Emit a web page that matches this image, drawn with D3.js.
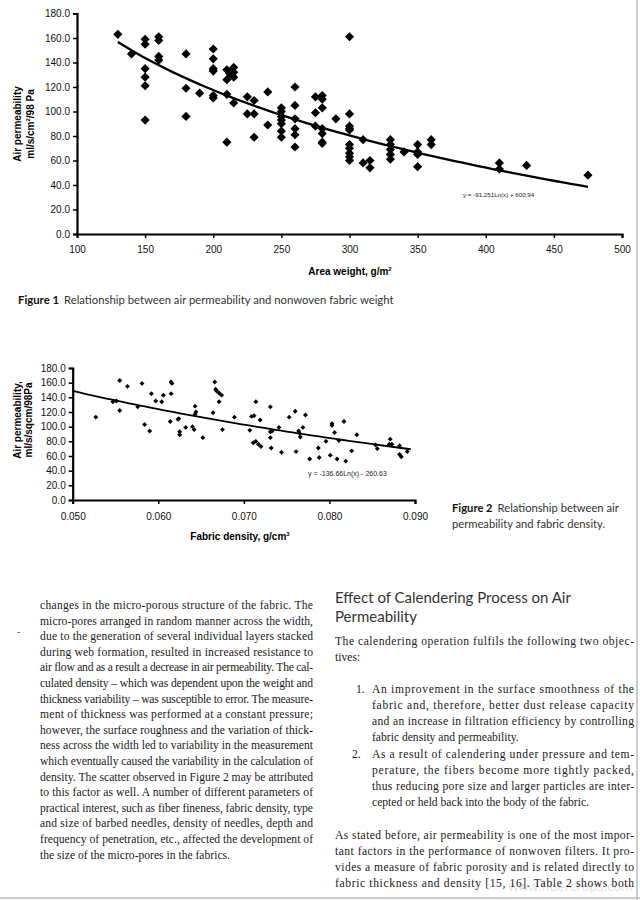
<!DOCTYPE html>
<html><head><meta charset="utf-8">
<script src="https://cdn.jsdelivr.net/npm/d3@7"></script>
<style>
html,body{margin:0;padding:0;background:#fff;}
svg{display:block;}
</style></head>
<body>
<svg id="c" width="640" height="900"></svg>
<script>
// ---------- DATA ----------
// Figure 1: area weight (g/m2) vs air permeability
const fig1X = [130,140,150,150,150,150,150,150,160,160,160,160,180,180,180,190,200,200,200,200,200,200,
  210,210,210,210,212,215,215,215,215,225,225,230,230,230,240,240,
  250,250,250,250,250,250,250,260,260,260,260,260,260,275,275,275,280,280,280,280,280,280,280,290,
  300,300,300,300,300,300,300,300,300,300,310,310,315,315,330,330,330,330,330,340,350,350,350,350,360,360,410,410,430,475];
const fig1Y = [163,147,159,155,135,128,121,93,161,158,145,142,147,119,96,115,151,143,135,133,113,111,
  134,126,114,75,131,136,132,128,107,112,98,109,98,79,116,89,
  103,100,96,93,90,84,79,120,105,94,86,81,71,112,99,88,113,110,103,86,82,75,74,94,
  161,98,88,86,85,73,70,66,63,60,77,58,60,54,77,73,69,65,61,67,73,67,65,55,77,73,58,53,56,48];
const fig1Fit = [-91.251, 600.94];          // y = a*ln(x) + b
const fig1FitRange = [130, 475];
const fig1XTicks = [100,150,200,250,300,350,400,450,500];
const fig1YTicks = [0,20,40,60,80,100,120,140,160,180];

// Figure 2: fabric density (g/cm3) vs air permeability
const fig2X = [0.0527,0.0555,0.0547,0.0551,0.0555,0.0564,0.0576,0.0581,0.0584,0.0590,0.0592,0.0597,0.0604,0.0606,
  0.0615,0.0616,0.0615,0.0614,0.0623,0.0624,0.0625,0.0625,0.0632,0.0640,0.0642,0.0643,0.0643,0.0644,0.0652,
  0.0664,0.0666,0.0667,0.0668,0.0671,0.0674,0.0671,0.0675,0.0689,
  0.0714,0.0707,0.0709,0.0712,0.0719,0.0711,0.0714,0.0717,0.0720,0.0731,0.0731,0.0731,0.0732,0.0733,0.0741,0.0744,
  0.0753,0.0760,0.0761,0.0764,0.0765,0.0766,0.0769,0.0772,0.0777,0.0787,0.0788,0.0796,0.0801,0.0803,0.0803,0.0806,
  0.0809,0.0811,0.0817,0.0819,0.0826,0.0832,0.0854,0.0856,0.0871,0.0870,0.0873,0.0882,0.0882,0.0884,0.0891];
const fig2Y = [113,163,134,135,122,155,127,159,103,94,145,135,134,143,
  161,159,145,107,110,111,93,89,99,100,96,117,128,120,85,
  119,161,151,149,146,143,134,96,113,
  134,95,114,115,109,78,80,76,73,127,93,85,71,94,99,65,
  113,121,66,94,91,86,99,116,56,71,58,80,61,102,104,92,
  56,81,107,53,67,89,75,70,83,76,76,74,62,59,66];
const fig2Fit = [-136.66, -260.63];
const fig2FitRange = [0.05, 0.0895];
const fig2XTicks = [0.05,0.06,0.07,0.08,0.09];
const fig2YTicks = [0,20,40,60,80,100,120,140,160,180];

// Text content
const leftLines = [
 "changes in the micro-porous structure of the fabric. The",
 "micro-pores arranged in random manner across the width,",
 "due to the generation of several individual layers stacked",
 "during web formation, resulted in increased resistance to",
 "air flow and as a result a decrease in air permeability. The cal-",
 "culated density – which was dependent upon the weight and",
 "thickness variability – was susceptible to error. The measure-",
 "ment of thickness was performed at a constant pressure;",
 "however, the surface roughness and the variation of thick-",
 "ness across the width led to variability in the measurement",
 "which eventually caused the variability in the calculation of",
 "density. The scatter observed in Figure 2 may be attributed",
 "to this factor as well. A number of different parameters of",
 "practical interest, such as fiber fineness, fabric density, type",
 "and size of barbed needles, density of needles, depth and",
 "frequency of penetration, etc., affected the development of",
 "the size of the micro-pores in the fabrics."
];
const headingLines = ["Effect of Calendering Process on Air","Permeability"];
const introLines = ["The calendering operation fulfils the following two objec-","tives:"];
const item1Lines = [
 "An improvement in the surface smoothness of the",
 "fabric and, therefore, better dust release capacity",
 "and an increase in filtration efficiency by controlling",
 "fabric density and permeability."];
const item2Lines = [
 "As a result of calendering under pressure and tem-",
 "perature, the fibers become more tightly packed,",
 "thus reducing pore size and larger particles are inter-",
 "cepted or held back into the body of the fabric."];
const paraLines = [
 "As stated before, air permeability is one of the most impor-",
 "tant factors in the performance of nonwoven filters. It pro-",
 "vides a measure of fabric porosity and is related directly to",
 "fabric thickness and density [15, 16]. Table 2 shows both"];

// ---------- DRAW ----------
const svg = d3.select("#c");
const CF = "'Liberation Sans', Arial, sans-serif";
const HF = "Lato, 'Open Sans', sans-serif";

function scatterChart(o){
  const g = svg.append("g");
  const x = d3.scaleLinear().domain(o.xDom).range(o.xRange);
  const y = d3.scaleLinear().domain(o.yDom).range(o.yRange);
  const yAx = g.append("g").attr("transform",`translate(${o.xRange[0]},0)`)
    .call(d3.axisLeft(y).tickValues(o.yTicks).tickFormat(d3.format(".1f")).tickSize(4).tickPadding(3));
  const xAx = g.append("g").attr("transform",`translate(0,${o.yRange[0]})`)
    .call(d3.axisBottom(x).tickValues(o.xTicks).tickFormat(o.xFmt).tickSize(4).tickPadding(o.xPad));
  [yAx,xAx].forEach(a=>{
    a.select(".domain").attr("stroke","#000").attr("stroke-width",2.2);
    a.selectAll(".tick line").attr("stroke","#000").attr("stroke-width",1.5);
    a.selectAll("text").attr("font-family",CF).attr("font-size",o.tickFs).attr("fill","#111");
  });
  // trend line drawn from the equation printed on the chart
  const xs = d3.range(0,61).map(i=>o.fitRange[0]+(o.fitRange[1]-o.fitRange[0])*i/60);
  g.append("path")
    .attr("d", d3.line().x(d=>x(d)).y(d=>y(o.fit[0]*Math.log(d)+o.fit[1]))(xs))
    .attr("fill","none").attr("stroke","#000").attr("stroke-width",o.lineW);
  // points
  const sym = d3.symbol(d3.symbolSquare, o.symSize);
  g.selectAll("path.pt").data(o.xs).join("path").attr("class","pt")
    .attr("d", sym())
    .attr("transform",(d,i)=>`translate(${x(d)},${y(o.ys[i])}) rotate(45)`)
    .attr("fill","#000");
  return {g,x,y};
}

// Figure 1
const f1 = scatterChart({xDom:[100,500], xRange:[77,622], yDom:[0,180], yRange:[234,13.5],
  xTicks:fig1XTicks, yTicks:fig1YTicks, xFmt:d3.format("d"), xPad:8, tickFs:10,
  fit:fig1Fit, fitRange:fig1FitRange, xs:fig1X, ys:fig1Y, symSize:42, lineW:2.3});
f1.g.append("text").attr("x",463).attr("y",197).attr("font-family",CF).attr("font-size",6.2)
  .attr("fill","#222").text("y = -91.251Ln(x) + 600.94");
f1.g.append("text").attr("x",350).attr("y",275).attr("text-anchor","middle")
  .attr("font-family",CF).attr("font-size",10).attr("font-weight","bold")
  .html('Area weight, g/m<tspan dy="-4" font-size="6">2</tspan>');
const yt1 = f1.g.append("text").attr("transform","translate(21,124) rotate(-90)").attr("text-anchor","middle")
  .attr("font-family",CF).attr("font-size",10).attr("font-weight","bold");
yt1.append("tspan").attr("x",0).attr("dy",0).text("Air permeability");
yt1.append("tspan").attr("x",0).attr("dy",13).html('ml/s/cm<tspan dy="-4" font-size="6">2</tspan><tspan dy="4">/98 Pa</tspan>');

// caption 1
const cap1 = svg.append("text").attr("x",18).attr("y",304).attr("font-family",HF)
  .attr("font-size",11.3).attr("fill","#333");
cap1.append("tspan").attr("font-weight","bold").attr("fill","#111").text("Figure 1");
cap1.append("tspan").attr("dx",5).text("Relationship between air permeability and nonwoven fabric weight");

// Figure 2
const f2 = scatterChart({xDom:[0.05,0.09], xRange:[72.7,415], yDom:[0,180], yRange:[500,368],
  xTicks:fig2XTicks, yTicks:fig2YTicks, xFmt:d3.format(".3f"), xPad:9, tickFs:10,
  fit:fig2Fit, fitRange:fig2FitRange, xs:fig2X, ys:fig2Y, symSize:12, lineW:1.8});
f2.g.append("text").attr("x",308).attr("y",476).attr("font-family",CF).attr("font-size",7)
  .attr("fill","#222").text("y = -136.66Ln(x) - 260.63");
f2.g.append("text").attr("x",240).attr("y",540).attr("text-anchor","middle")
  .attr("font-family",CF).attr("font-size",10).attr("font-weight","bold")
  .html('Fabric density, g/cm<tspan dy="-4" font-size="6">3</tspan>');
const yt2 = f2.g.append("text").attr("transform","translate(21,420) rotate(-90)").attr("text-anchor","middle")
  .attr("font-family",CF).attr("font-size",10).attr("font-weight","bold");
yt2.append("tspan").attr("x",0).attr("dy",0).text("Air permeability,");
yt2.append("tspan").attr("x",0).attr("dy",11).text("ml/s/sqcm/98Pa");

const cap2 = svg.append("text").attr("font-family",HF).attr("font-size",11.2).attr("fill","#333");
cap2.append("tspan").attr("x",452).attr("y",512).attr("font-weight","bold").attr("fill","#111").text("Figure 2");
cap2.append("tspan").attr("dx",5).text("Relationship between air");
cap2.append("tspan").attr("x",452).attr("y",528).text("permeability and fabric density.");

// ---------- BODY TEXT ----------
const SF = "'Liberation Serif', 'Times New Roman', serif";
function block(lines, x0, y0, lh, width, justifyLast){
  svg.append("g").selectAll("text").data(lines).join("text")
    .attr("x",x0).attr("y",(d,i)=>y0+i*lh)
    .attr("font-family",SF).attr("font-size",11.6).attr("fill","#1a1a1a")
    .each(function(d,i){
      const t = d3.select(this).text(d);
      if (i < lines.length-1 || justifyLast) t.attr("textLength",width).attr("lengthAdjust","spacing");
    });
}
block(leftLines, 40, 609, 15.6, 273, false);
svg.append("text").attr("x",17).attr("y",635).attr("font-family",SF).attr("font-size",10).attr("fill","#555").text("-");

svg.append("g").selectAll("text").data(headingLines).join("text")
  .attr("x",335).attr("y",(d,i)=>603+i*19).attr("font-family",HF)
  .attr("font-size",15).attr("font-weight",400).attr("fill","#333").text(d=>d);
block(introLines, 335, 645, 16, 299, false);
svg.append("text").attr("x",356).attr("y",693).attr("font-family",SF).attr("font-size",11.6).attr("fill","#1a1a1a").text("1.");
block(item1Lines, 372, 693, 16, 262, false);
svg.append("text").attr("x",352).attr("y",758).attr("font-family",SF).attr("font-size",11.6).attr("fill","#1a1a1a").text("2.");
block(item2Lines, 372, 758, 16, 262, false);
block(paraLines, 335, 839, 16, 299, true);

// faint watermark
svg.append("text").attr("x",633).attr("y",891).attr("text-anchor","end").attr("font-family","'Open Sans', sans-serif")
  .attr("font-size",13).attr("fill","#000").attr("opacity",0.12).text("www.fibercrops.com");

// page edges
svg.append("line").attr("x1",637).attr("x2",637).attr("y1",0).attr("y2",900).attr("stroke","#bbb").attr("stroke-width",1.5);
svg.append("line").attr("x1",0).attr("x2",640).attr("y1",898).attr("y2",898).attr("stroke","#bbb").attr("stroke-width",1.5);
</script>
</body></html>
